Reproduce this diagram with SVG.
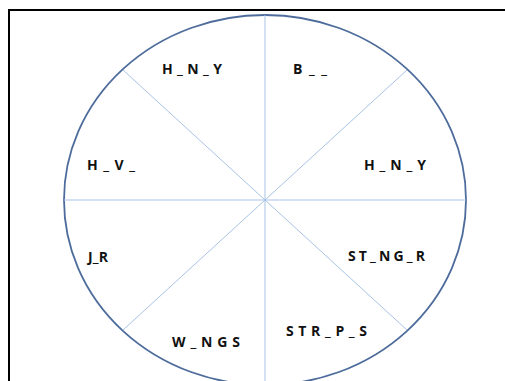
<svg xmlns="http://www.w3.org/2000/svg" width="505" height="381" viewBox="0 0 505 381">
<style>
.lbl{font-family:"Open Sans","Liberation Sans",sans-serif;font-weight:bold;font-size:14px;fill:#111;}
.spoke{stroke:#a9c3e5;stroke-width:1;fill:none;}
</style>
<rect width="505" height="381" fill="#fff"/>
<rect id="frame" x="9" y="10" width="520" height="420" fill="none" stroke="#000" stroke-width="2"/>
<g id="wheel">
<ellipse cx="265" cy="200" rx="201" ry="185" fill="#fff" stroke="#4d6c9c" stroke-width="1.8"/>
</g>
<g id="connectors">
<line class="spoke" x1="265" y1="15" x2="265" y2="385"/>
<line class="spoke" x1="64" y1="200" x2="466" y2="200"/>
<line class="spoke" x1="123" y1="70" x2="407" y2="330"/>
<line class="spoke" x1="407" y1="70" x2="123" y2="330"/>
</g>
<g id="n1"><text class="lbl" x="162" y="74" textLength="60" lengthAdjust="spacing">H_N_Y</text></g>
<g id="n2"><text class="lbl" x="293" y="74" textLength="34" lengthAdjust="spacing">B__</text></g>
<g id="n3"><text class="lbl" x="87" y="170" textLength="48" lengthAdjust="spacing">H_V_</text></g>
<g id="n4"><text class="lbl" x="364" y="170" textLength="62" lengthAdjust="spacing">H_N_Y</text></g>
<g id="n5"><text class="lbl" x="88" y="262" textLength="20" lengthAdjust="spacing">J_R</text></g>
<g id="n6"><text class="lbl" x="348" y="261" textLength="77" lengthAdjust="spacing">ST_NG_R</text></g>
<g id="n7"><text class="lbl" x="172" y="347" textLength="68" lengthAdjust="spacing">W_NGS</text></g>
<g id="n8"><text class="lbl" x="286" y="336" textLength="81" lengthAdjust="spacing">STR_P_S</text></g>
</svg>
